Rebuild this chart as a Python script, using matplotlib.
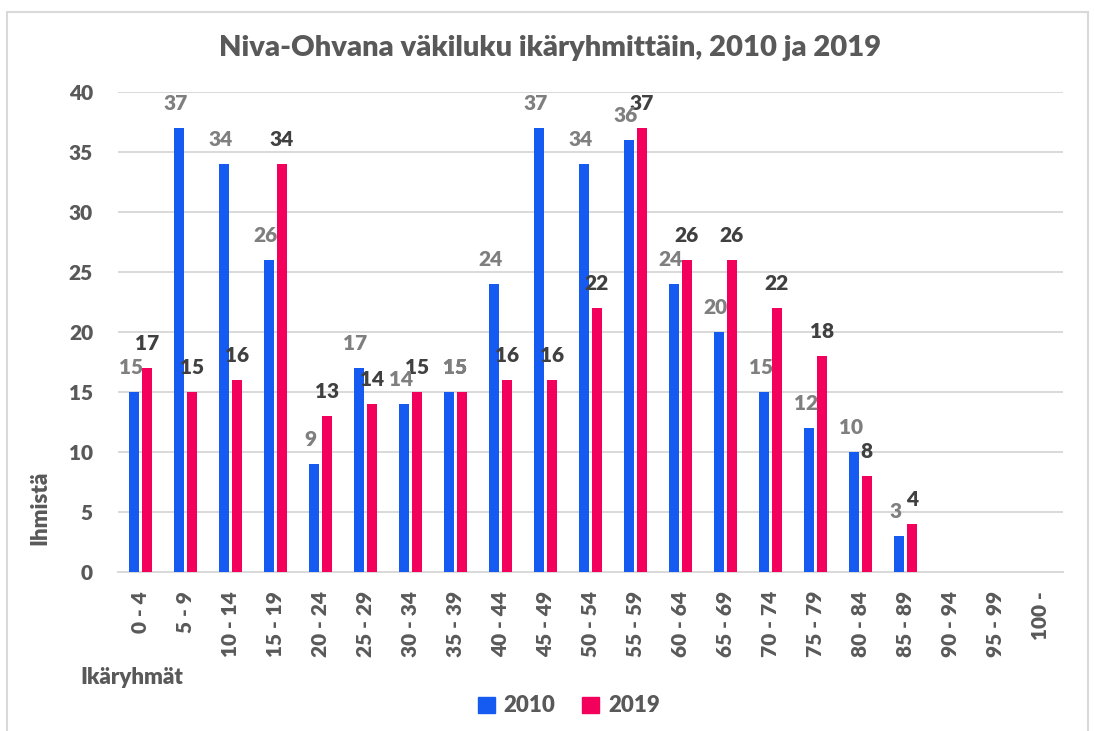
import numpy as np
import matplotlib.pyplot as plt
from matplotlib.patches import Rectangle, Patch

# data
age_groups = ['0 - 4', '5 - 9', '10 - 14', '15 - 19', '20 - 24', '25 - 29', '30 - 34',
              '35 - 39', '40 - 44', '45 - 49', '50 - 54', '55 - 59', '60 - 64', '65 - 69',
              '70 - 74', '75 - 79', '80 - 84', '85 - 89', '90 - 94', '95 - 99', '100 -']
pop_2010 = [15, 37, 34, 26, 9, 17, 14, 15, 24, 37, 34, 36, 24, 20, 15, 12, 10, 3, None, None, None]
pop_2019 = [17, 15, 16, 34, 13, 14, 15, 15, 16, 16, 22, 37, 26, 26, 22, 18, 8, 4, None, None, None]

blue = '#155BF2'
red = '#F2005C'
grid_c = '#D9D9D9'
text_c = '#595959'

plt.rcParams['font.family'] = ['Lato', 'DejaVu Sans']
bold = 'heavy'

fig = plt.figure(figsize=(10.94, 7.31), dpi=100)
ax = fig.add_axes([118 / 1094, 1 - 571.5 / 731, 945 / 1094, 479.8 / 731])

x = np.arange(len(age_groups))
v10 = np.array([np.nan if v is None else v for v in pop_2010], dtype=float)
v19 = np.array([np.nan if v is None else v for v in pop_2019], dtype=float)
w = 0.22
off = 0.14
ax.bar(x - off, v10, width=w, color=blue, zorder=3)
ax.bar(x + off, v19, width=w, color=red, zorder=3)

for xi, a, b in zip(x, v10, v19):
    if np.isnan(a):
        continue
    if a == b:
        # equal values: Excel stacks both labels above the pair
        xa = xb = xi
    else:
        xa, xb = xi - off - 0.08, xi + off
    ax.text(xb, b + 2.0, f'{int(b)}', ha='center', va='center',
            fontsize=15, fontweight=bold, color='#404040', zorder=4)
    ax.text(xa, a + 2.0, f'{int(a)}', ha='center', va='center',
            fontsize=15, fontweight=bold, color='#7F7F7F', zorder=5)

ax.set_xlim(-0.5, len(age_groups) - 0.5)
ax.set_ylim(0, 40)
ax.set_yticks(range(0, 41, 5))
ax.set_xticks(x)
ax.set_xticklabels(age_groups, rotation=90, va='top', ha='center')
ax.tick_params(axis='y', length=0, pad=18, labelsize=15, labelcolor=text_c)
ax.tick_params(axis='x', length=0, pad=14, labelsize=15, labelcolor=text_c)
for lab in ax.get_xticklabels() + ax.get_yticklabels():
    lab.set_fontweight(bold)
ax.grid(axis='y', color=grid_c, linewidth=1.4, zorder=0)
for s in ['top', 'right', 'left']:
    ax.spines[s].set_visible(False)
ax.spines['bottom'].set_color(grid_c)
ax.spines['bottom'].set_linewidth(1.4)

fig.text(550 / 1094, 1 - 48 / 731, 'Niva-Ohvana väkiluku ikäryhmittäin, 2010 ja 2019',
         ha='center', va='center', fontsize=21, fontweight=bold, color=text_c)
fig.text(40 / 1094, 1 - 508 / 731, 'Ihmistä', rotation=90, ha='center', va='center',
         fontsize=16, fontweight=bold, color=text_c)
fig.text(80 / 1094, 1 - 677 / 731, 'Ikäryhmät', ha='left', va='center',
         fontsize=16, fontweight=bold, color=text_c)

handles = [Patch(color=blue, label='2010'), Patch(color=red, label='2019')]
leg = fig.legend(handles=handles, loc='center', bbox_to_anchor=(569 / 1094, 1 - 706 / 731),
                 ncol=2, frameon=False, fontsize=16, handlelength=0.75, handleheight=0.75,
                 handletextpad=0.4, columnspacing=1.2)
for t in leg.get_texts():
    t.set_color(text_c)
    t.set_fontweight(bold)

fig.patches.append(Rectangle((7 / 1094, -0.01), 1081 / 1094, 1.01 - 12 / 731,
                             transform=fig.transFigure, fill=False, edgecolor=grid_c,
                             linewidth=1.5))

fig.savefig('out.png', dpi=100)
